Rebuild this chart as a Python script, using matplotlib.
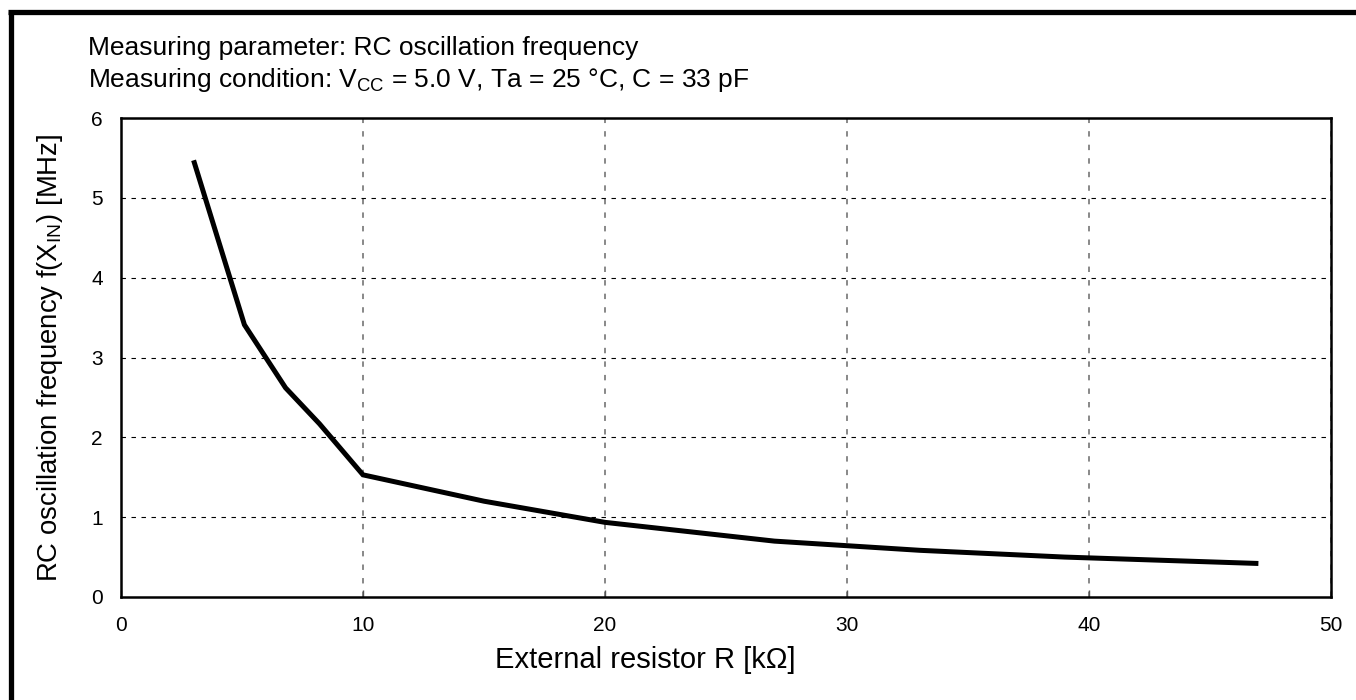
import matplotlib
matplotlib.use("Agg")
import matplotlib.pyplot as plt
from matplotlib.lines import Line2D

plt.rcParams['font.family'] = ['Liberation Sans', 'DejaVu Sans']
plt.rcParams['mathtext.fontset'] = 'custom'
plt.rcParams['mathtext.rm'] = 'Liberation Sans'
plt.rcParams['mathtext.it'] = 'Liberation Sans'

# Data
resistance_kohm = [3, 5.1, 6.8, 8.2, 10, 15, 20, 27, 33, 39, 47]
frequency_mhz = [5.47, 3.41, 2.62, 2.17, 1.53, 1.20, 0.935, 0.70, 0.585, 0.50, 0.42]
x_ticks = [0, 10, 20, 30, 40, 50]
y_ticks = [0, 1, 2, 3, 4, 5, 6]

W, H = 1356, 700
fig = plt.figure(figsize=(W / 100, H / 100), dpi=100)
ax = fig.add_axes([121 / W, 1 - 597 / H, 1210 / W, 479 / H])

ax.plot(resistance_kohm, frequency_mhz, color='black', linewidth=3.6,
        solid_joinstyle='miter', solid_capstyle='butt', zorder=3)

ax.set_xlim(0, 50)
ax.set_ylim(0, 6)
ax.set_xticks(x_ticks)
ax.set_yticks(y_ticks)

for x in x_ticks:
    ax.axvline(x, color='#7f7f7f', linewidth=1.3, linestyle=(0, (3, 4.5)), zorder=1)
for y in y_ticks[1:]:
    ax.axhline(y, color='black', linewidth=0.8, linestyle=(0, (4, 5)), zorder=1)

for s in ax.spines.values():
    s.set_linewidth(1.8)
    s.set_zorder(2)

ax.tick_params(axis='x', direction='in', length=5, width=1, color='#555555',
               labelsize=15, pad=14)
ax.tick_params(axis='y', length=0, labelsize=15, pad=13)

fig.text(645 / W, 1 - 668 / H, 'External resistor R [k\u03a9]', fontsize=21,
         ha='center', va='baseline')
fig.text(50 / W, 1 - 358 / H, r'RC oscillation frequency f(X$_{\mathrm{IN}}$) [MHz]',
         fontsize=19.8, rotation=90, ha='center', va='center')

fig.text(88 / W, 1 - 55 / H, 'Measuring parameter: RC oscillation frequency',
         fontsize=19, ha='left', va='baseline')
fig.text(88 / W, 1 - 87 / H,
         'Measuring condition: V$_{\\mathrm{CC}}$ = 5.0 V, Ta = 25 \u00b0C, C = 33 pF',
         fontsize=19, ha='left', va='baseline')

# outer frame (left and top edges)
fig.add_artist(Line2D([10.5 / W, 10.5 / W], [0, 1 - 11.5 / H], color='black',
                      linewidth=3.8, transform=fig.transFigure, solid_capstyle='butt'))
fig.add_artist(Line2D([8 / W, 1], [1 - 11.5 / H, 1 - 11.5 / H], color='black',
                      linewidth=3.8, transform=fig.transFigure, solid_capstyle='butt'))

fig.savefig('out.png', dpi=100)
